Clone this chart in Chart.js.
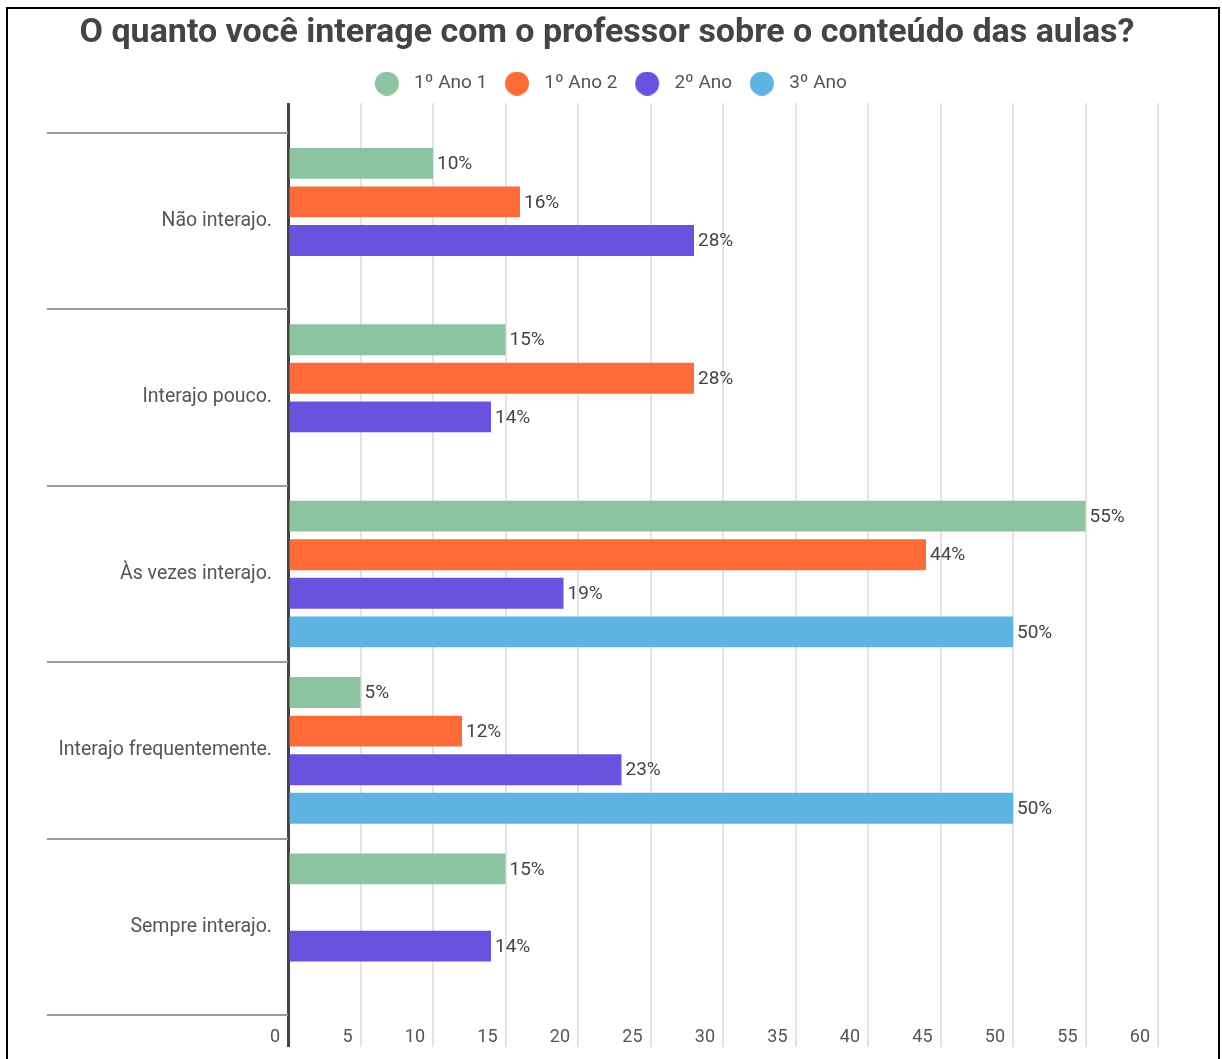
<!DOCTYPE html>
<html>
<head>
<meta charset="utf-8">
<script src="https://cdn.jsdelivr.net/npm/chart.js@4.4.0/dist/chart.umd.min.js"></script>
<style>
  html, body { margin: 0; padding: 0; background: #fff; overflow: hidden; }
  #frame { position: absolute; left: 6px; top: 7px; width: 1210px; height: 1100px; border: 2px solid #000; }
  #chart { position: absolute; left: 0; top: 0; }
</style>
</head>
<body>
<div id="frame"></div>
<canvas id="chart" width="1222" height="1059"></canvas>
<script>
// ---------- Data ----------
const categories = [
  "Não interajo.",
  "Interajo pouco.",
  "Às vezes interajo.",
  "Interajo frequentemente.",
  "Sempre interajo.",
];
const seriesNames = ["1º Ano 1", "1º Ano 2", "2º Ano", "3º Ano"];
const ano1a = [10, 15, 55, 5, 15];
const ano1b = [16, 28, 44, 12, null];
const ano2 = [28, 14, 19, 23, 14];
const ano3 = [null, null, 50, 50, null];
const xTicks = [0, 5, 10, 15, 20, 25, 30, 35, 40, 45, 50, 55, 60];

const colors = ["#8cc3a1", "#ff6b38", "#6a51de", "#5fb3e2"];

Chart.defaults.font.family = "Roboto";

// legend dot: circle drawn inside a wider image so the gap to the text matches
function dot(color) {
  const c = document.createElement("canvas");
  c.width = 38;
  c.height = 24;
  const g = c.getContext("2d");
  g.fillStyle = color;
  g.beginPath();
  g.arc(20, 12, 12, 0, Math.PI * 2);
  g.fill();
  return c;
}

// axis line at 0 is dark, the rest light
const gridColor = (c) => (c.tick && c.tick.value === 0 ? "#444" : "#e4e4e4");
const gridWidth = (c) => (c.tick && c.tick.value === 0 ? 3 : 2);

// value labels at the end of each bar
const barLabels = {
  id: "barLabels",
  afterDatasetsDraw(chart) {
    const ctx = chart.ctx;
    ctx.save();
    ctx.font = "19px Roboto";
    ctx.fillStyle = "#444";
    ctx.textAlign = "left";
    ctx.textBaseline = "middle";
    chart.data.datasets.forEach((ds, i) => {
      chart.getDatasetMeta(i).data.forEach((bar, j) => {
        const v = ds.data[j];
        if (v === null || v === undefined) return;
        ctx.fillText(v + "%", bar.x + 4, bar.y + 1);
      });
    });
    ctx.restore();
  },
};

const series = [ano1a, ano1b, ano2, ano3];

new Chart(document.getElementById("chart"), {
  type: "bar",
  data: {
    labels: categories,
    datasets: series.map((d, i) => ({
      label: seriesNames[i],
      data: d,
      backgroundColor: colors[i],
      borderWidth: 0,
      pointStyle: dot(colors[i]),
      categoryPercentage: 0.875,
      barPercentage: 0.8,
    })),
  },
  options: {
    indexAxis: "y",
    responsive: false,
    animation: false,
    layout: { padding: { left: 56, right: 64, top: 0, bottom: 0 } },
    plugins: {
      tooltip: { enabled: false },
      title: {
        display: true,
        text: "O quanto você interage com o professor sobre o conteúdo das aulas?",
        color: "#444",
        font: { size: 34, weight: "bold" },
        padding: { top: 13, bottom: 10.2 },
      },
      legend: {
        labels: {
          usePointStyle: true,
          pointStyleWidth: 37.5,
          padding: 10,
          color: "#555",
          font: { size: 19 },
        },
      },
    },
    scales: {
      x: {
        type: "linear",
        min: 0,
        max: 60,
        afterBuildTicks: (s) => { s.ticks = xTicks.map((v) => ({ value: v })); },
        afterFit: (s) => { s.height = 44; },
        border: { display: false },
        grid: { color: gridColor, lineWidth: gridWidth, tickLength: 32 },
        ticks: { align: "end", labelOffset: -8, padding: -20, color: "#555", font: { size: 18 } },
      },
      x2: {
        type: "linear",
        position: "top",
        min: 0,
        max: 60,
        afterBuildTicks: (s) => { s.ticks = xTicks.map((v) => ({ value: v })); },
        afterFit: (s) => { s.height = 30; },
        border: { display: false },
        grid: { drawOnChartArea: false, color: gridColor, lineWidth: gridWidth, tickLength: 30 },
        ticks: { display: false },
      },
      y: {
        afterFit: (s) => { s.width = 232; },
        border: { display: false },
        grid: { drawOnChartArea: false, color: "#999", lineWidth: 2, tickLength: 241 },
        ticks: { padding: -225, color: "#555", font: { size: 19.5 } },
      },
    },
  },
  plugins: [barLabels],
});
</script>
</body>
</html>
